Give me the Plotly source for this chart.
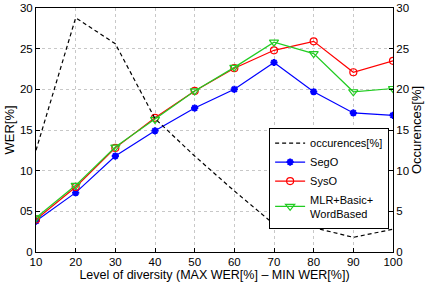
import plotly.graph_objects as go

x = [10, 20, 30, 40, 50, 60, 70, 80, 90, 100]
occurences = [12.5, 28.8, 25.6, 16.4, 11.8, 7.5, 3.4, 3.0, 1.8, 2.8]
sego = [3.8, 7.3, 11.8, 14.9, 17.7, 20.0, 23.3, 19.7, 17.1, 16.8]
syso = [4.0, 8.0, 12.8, 16.5, 19.8, 22.6, 24.8, 25.9, 22.1, 23.5]
mlr = [4.2, 8.2, 12.9, 16.3, 19.8, 22.7, 25.8, 24.4, 19.7, 20.1]
yticks = [0, 5, 10, 15, 20, 25, 30]
yticklabels_left = ["0", "05", "10", "15", "20", "25", "30"]
yticklabels_right = ["0", "5", "10", "15", "20", "25", "30"]

fig = go.Figure()
fig.add_trace(go.Scatter(x=x, y=occurences, name="occurences[%]", mode="lines",
                         line=dict(color="black", dash="4px,3px", width=1.2), yaxis="y2"))
fig.add_trace(go.Scatter(x=x, y=sego, name="SegO", mode="lines+markers",
                         line=dict(color="#0000ff", width=1.2),
                         marker=dict(symbol="asterisk", size=6, color="#0000ff",
                                     line=dict(color="#0000ff", width=2))))
fig.add_trace(go.Scatter(x=x, y=syso, name="SysO", mode="lines+markers",
                         line=dict(color="#ff0000", width=1.2),
                         marker=dict(symbol="circle-open", size=7, color="#ff0000",
                                     line=dict(width=1.2))))
fig.add_trace(go.Scatter(x=x, y=mlr, name="MLR+Basic+<br>WordBased", mode="lines+markers",
                         line=dict(color="#22cc22", width=1.2),
                         marker=dict(symbol="triangle-down-open", size=8, color="#22cc22",
                                     line=dict(width=1.2))))

font = "Liberation Sans, Arial, sans-serif"
fig.update_layout(
    width=427, height=282,
    margin=dict(l=36, r=34, t=8, b=30),
    paper_bgcolor="white", plot_bgcolor="white",
    font=dict(family=font, size=12, color="black"),
    showlegend=True,
    legend=dict(x=0.653, y=0.51, xanchor="left", yanchor="top",
                bgcolor="white", bordercolor="black", borderwidth=1,
                font=dict(size=11), tracegroupgap=0, itemwidth=30),
    xaxis=dict(range=[10, 100], tickvals=x, showgrid=True, gridcolor="#c8c8c8",
               griddash="dot", gridwidth=1, showline=True, linecolor="black",
               linewidth=1, mirror=True, ticks="inside", ticklen=4, tickcolor="black",
               zeroline=False, automargin=False, ticklabelstandoff=-1,
               tickfont=dict(size=11.5),
               title=dict(text="Level of diversity (MAX WER[%] \u2013 MIN WER[%])",
                          standoff=3, font=dict(size=12.5))),
    yaxis=dict(range=[0, 30], tickvals=yticks, ticktext=yticklabels_left,
               showgrid=True, gridcolor="#c8c8c8", griddash="dot", gridwidth=1,
               showline=True, linecolor="black", linewidth=1, automargin=False,
               ticks="inside", ticklen=4, tickcolor="black", zeroline=False,
               tickfont=dict(size=11.5),
               title=dict(text="WER[%]", standoff=2, font=dict(size=13))),
    yaxis2=dict(range=[0, 30], tickvals=yticks, ticktext=yticklabels_right,
                overlaying="y", side="right", showgrid=False, showline=True,
                linecolor="black", linewidth=1, ticks="inside", ticklen=4,
                tickcolor="black", zeroline=False, automargin=False,
                tickfont=dict(size=11.5),
                title=dict(text="Occurences[%]", standoff=2, font=dict(size=13))),
)

fig.write_html("out.html")
